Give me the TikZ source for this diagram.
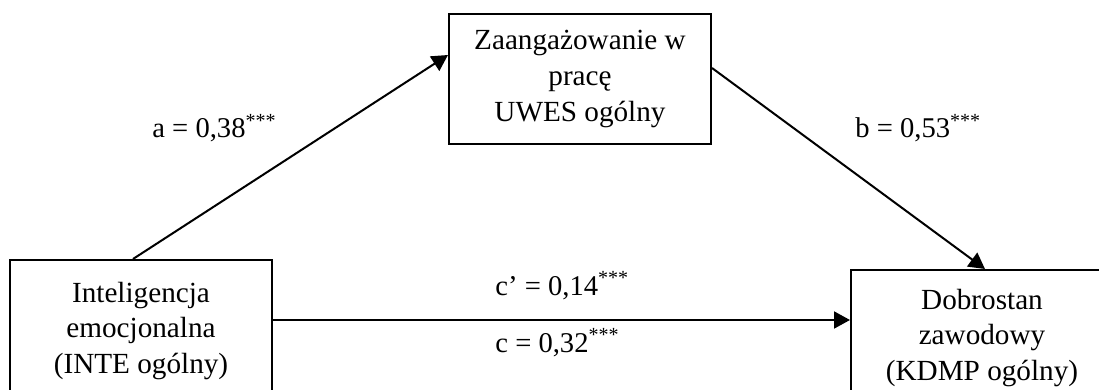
\documentclass[tikz,border=0pt]{standalone}
\usepackage{fontspec}
\setmainfont{Liberation Serif}
\usetikzlibrary{arrows.meta}
\begin{document}
\begin{tikzpicture}[x=0.5pt,y=-0.5pt,
  box/.style={draw,line width=1pt,minimum width=131pt,align=center,inner sep=0pt,
    font=\fontsize{14.6}{17.8}\selectfont},
  conn/.style={line width=1pt,-{Triangle[length=8pt,width=8.5pt]}},
  lab/.style={anchor=base west,inner sep=0pt,font=\fontsize{14.3}{17}\selectfont}]
\clip (0,0) rectangle (1099,390);
\node[box,minimum height=71pt] (L) at (141,331) {Inteligencja\\emocjonalna\\(INTE ogólny)};
\node[box,minimum height=68pt] (R) at (982,338) {Dobrostan\\zawodowy\\(KDMP ogólny)};
\node[box,minimum height=65pt] (T) at (580,79) {Zaangażowanie w\\pracę\\UWES ogólny};
\draw[conn] ([xshift=-4pt]L.north) -- ([yshift=12pt]T.west);
\draw[conn] ([yshift=5.5pt]T.east) -- ([xshift=1.5pt]R.north);
\draw[conn] ([yshift=5.5pt]L.east) -- ([yshift=5.5pt]L.east -| R.west);
\node[lab] (la) at (152,138) {a = 0,38\textsuperscript{***}};
\node[lab] (lb) at (855,138) {b = 0,53\textsuperscript{***}};
\node[lab] (lc1) at (495,295) {c’ = 0,14\textsuperscript{***}};
\node[lab] (lc2) at (495,352) {c = 0,32\textsuperscript{***}};
\end{tikzpicture}
\end{document}
